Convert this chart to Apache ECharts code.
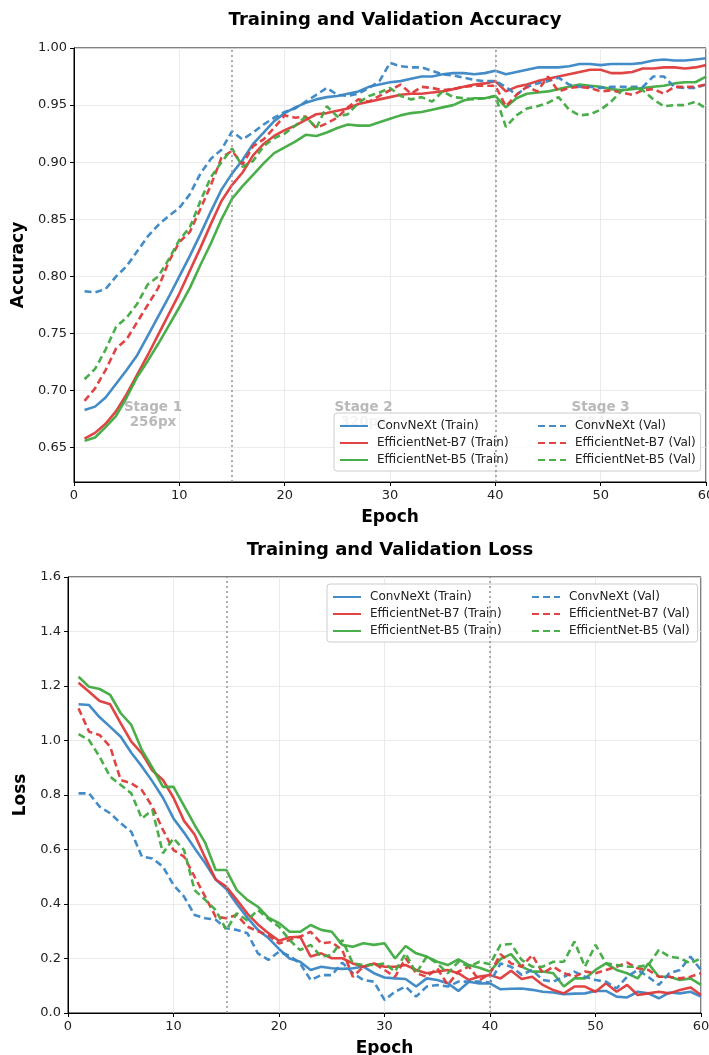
<!DOCTYPE html>
<html>
<head>
<meta charset="utf-8">
<script src="https://cdn.jsdelivr.net/npm/echarts@6/dist/echarts.min.js"></script>
<style>
html,body{margin:0;padding:0;background:#fff;}
#chart{width:709px;height:1055px;}
</style>
</head>
<body>
<div id="chart"></div>
<script>
// ---------------- data ----------------
const epochs = [1,2,3,4,5,6,7,8,9,10,11,12,13,14,15,16,17,18,19,20,21,22,23,24,25,26,27,28,29,30,
  31,32,33,34,35,36,37,38,39,40,41,42,43,44,45,46,47,48,49,50,51,52,53,54,55,56,57,58,59,60];

const seriesNames = ['ConvNeXt (Train)','EfficientNet-B7 (Train)','EfficientNet-B5 (Train)',
                     'ConvNeXt (Val)','EfficientNet-B7 (Val)','EfficientNet-B5 (Val)'];

// Accuracy
const convnextTrainAcc = [0.683,0.686,0.694,0.706,0.718,0.731,0.748,0.765,0.782,0.800,0.818,0.837,0.857,0.876,0.890,
  0.902,0.916,0.926,0.936,0.943,0.948,0.952,0.955,0.957,0.958,0.960,0.962,0.966,0.968,0.970,
  0.971,0.973,0.975,0.975,0.977,0.978,0.978,0.977,0.978,0.980,0.977,0.979,0.981,0.983,0.983,
  0.983,0.984,0.986,0.986,0.985,0.986,0.986,0.986,0.987,0.989,0.990,0.989,0.989,0.990,0.991];
const b7TrainAcc = [0.658,0.663,0.671,0.682,0.697,0.714,0.731,0.749,0.767,0.785,0.805,0.825,0.846,0.866,0.880,
  0.891,0.906,0.916,0.923,0.928,0.932,0.937,0.942,0.943,0.945,0.947,0.951,0.953,0.955,0.957,
  0.959,0.960,0.960,0.961,0.962,0.964,0.966,0.968,0.969,0.971,0.962,0.966,0.968,0.971,0.973,
  0.975,0.977,0.979,0.981,0.981,0.978,0.978,0.979,0.982,0.982,0.983,0.983,0.982,0.983,0.985];
const b5TrainAcc = [0.656,0.659,0.668,0.678,0.694,0.712,0.726,0.741,0.757,0.773,0.790,0.810,0.829,0.850,0.868,
  0.879,0.889,0.899,0.908,0.913,0.918,0.924,0.923,0.926,0.930,0.933,0.932,0.932,0.935,0.938,
  0.941,0.943,0.944,0.946,0.948,0.950,0.954,0.956,0.956,0.958,0.948,0.956,0.960,0.961,0.962,
  0.964,0.966,0.968,0.967,0.966,0.964,0.963,0.964,0.965,0.966,0.967,0.969,0.970,0.970,0.975];
const convnextValAcc = [0.787,0.786,0.789,0.800,0.809,0.822,0.835,0.845,0.853,0.860,0.872,0.890,0.903,0.911,0.927,
  0.920,0.926,0.933,0.939,0.944,0.947,0.953,0.959,0.965,0.959,0.958,0.960,0.965,0.971,0.987,
  0.984,0.983,0.983,0.980,0.977,0.976,0.974,0.972,0.971,0.971,0.966,0.959,0.966,0.969,0.971,
  0.974,0.968,0.966,0.966,0.965,0.966,0.966,0.966,0.966,0.975,0.975,0.966,0.965,0.965,0.968];
const b7ValAcc = [0.691,0.702,0.718,0.737,0.745,0.760,0.775,0.790,0.813,0.830,0.839,0.859,0.880,0.904,0.910,
  0.898,0.914,0.920,0.930,0.941,0.939,0.940,0.930,0.934,0.939,0.948,0.955,0.953,0.958,0.963,
  0.968,0.960,0.966,0.965,0.963,0.964,0.966,0.967,0.967,0.967,0.949,0.959,0.966,0.962,0.975,
  0.962,0.965,0.966,0.965,0.962,0.963,0.961,0.959,0.963,0.964,0.960,0.966,0.966,0.966,0.968];
const b5ValAcc = [0.710,0.719,0.736,0.756,0.764,0.776,0.793,0.800,0.815,0.832,0.843,0.866,0.887,0.900,0.912,
  0.896,0.901,0.914,0.921,0.925,0.932,0.940,0.930,0.949,0.940,0.942,0.952,0.958,0.961,0.965,
  0.958,0.955,0.957,0.953,0.962,0.957,0.956,0.955,0.956,0.958,0.931,0.941,0.947,0.949,0.952,
  0.957,0.946,0.941,0.942,0.946,0.953,0.963,0.965,0.963,0.955,0.949,0.950,0.950,0.953,0.947];

// Loss
const convnextTrainLoss = [1.133,1.130,1.085,1.050,1.014,0.955,0.905,0.850,0.790,0.714,0.662,0.605,0.550,0.490,0.455,
  0.400,0.350,0.305,0.275,0.235,0.200,0.188,0.158,0.170,0.164,0.162,0.164,0.170,0.146,0.130,
  0.127,0.125,0.097,0.127,0.121,0.109,0.081,0.115,0.108,0.109,0.087,0.089,0.090,0.085,0.078,
  0.075,0.069,0.071,0.072,0.081,0.081,0.060,0.057,0.078,0.072,0.054,0.075,0.072,0.078,0.060];
const b7TrainLoss = [1.212,1.179,1.145,1.133,1.063,0.996,0.953,0.890,0.855,0.790,0.705,0.655,0.570,0.490,0.464,
  0.415,0.365,0.325,0.293,0.265,0.278,0.280,0.207,0.219,0.201,0.201,0.182,0.170,0.182,0.170,
  0.170,0.176,0.158,0.146,0.152,0.158,0.146,0.121,0.134,0.139,0.127,0.155,0.125,0.133,0.103,
  0.084,0.072,0.097,0.097,0.078,0.109,0.078,0.103,0.066,0.072,0.078,0.072,0.084,0.094,0.066];
const b5TrainLoss = [1.234,1.197,1.189,1.167,1.100,1.057,0.965,0.900,0.830,0.830,0.760,0.690,0.625,0.525,0.525,
  0.451,0.415,0.390,0.350,0.330,0.298,0.298,0.323,0.305,0.298,0.250,0.243,0.256,0.250,0.256,
  0.200,0.246,0.219,0.207,0.188,0.176,0.197,0.176,0.166,0.152,0.198,0.216,0.170,0.152,0.152,
  0.146,0.097,0.127,0.127,0.158,0.182,0.158,0.146,0.127,0.182,0.133,0.133,0.121,0.127,0.103];
const convnextValLoss = [0.806,0.806,0.757,0.733,0.696,0.665,0.574,0.567,0.537,0.470,0.427,0.360,0.348,0.342,0.311,
  0.305,0.293,0.219,0.195,0.225,0.210,0.182,0.121,0.139,0.139,0.185,0.146,0.121,0.115,0.048,
  0.078,0.097,0.060,0.097,0.103,0.097,0.115,0.115,0.115,0.112,0.182,0.170,0.140,0.158,0.121,
  0.115,0.133,0.152,0.133,0.121,0.115,0.090,0.133,0.158,0.133,0.103,0.146,0.158,0.207,0.158];
const b7ValLoss = [1.118,1.032,1.020,0.977,0.855,0.843,0.818,0.757,0.672,0.598,0.574,0.500,0.427,0.353,0.348,
  0.360,0.317,0.300,0.285,0.255,0.268,0.280,0.298,0.256,0.260,0.231,0.133,0.170,0.182,0.158,
  0.133,0.201,0.146,0.133,0.164,0.103,0.152,0.170,0.120,0.145,0.216,0.182,0.170,0.213,0.146,
  0.170,0.146,0.133,0.152,0.146,0.158,0.170,0.185,0.164,0.158,0.133,0.133,0.127,0.133,0.146];
const b5ValLoss = [1.023,1.001,0.940,0.867,0.837,0.806,0.714,0.745,0.586,0.641,0.598,0.451,0.415,0.378,0.305,
  0.366,0.340,0.378,0.345,0.317,0.268,0.231,0.250,0.207,0.213,0.268,0.182,0.176,0.176,0.182,
  0.152,0.219,0.146,0.207,0.182,0.146,0.188,0.170,0.188,0.179,0.250,0.253,0.195,0.170,0.170,
  0.188,0.188,0.262,0.170,0.250,0.182,0.176,0.170,0.170,0.176,0.231,0.207,0.201,0.182,0.201];

const stageBoundaries = [15, 40];
const stageCenters = [7.5, 27.5, 50];
const stageLabels = ['Stage 1\n256px', 'Stage 2\n320px', 'Stage 3\n384px'];

const epochTicks = [0, 10, 20, 30, 40, 50, 60];
const accTicks = [0.65, 0.70, 0.75, 0.80, 0.85, 0.90, 0.95, 1.00];
const lossTicks = [0.0, 0.2, 0.4, 0.6, 0.8, 1.0, 1.2, 1.4, 1.6];

// ---------------- styling ----------------
const FONT = 'DejaVu Sans';
const colors = ['#3a86c4', '#de3a3a', '#40aa40'];
const zip = (ys) => epochs.map((e, i) => [e, ys[i]]);

function lineSeries(name, ys, colorIdx, dashed, gi) {
  return {
    type: 'line', name: name, data: zip(ys),
    xAxisIndex: gi, yAxisIndex: gi,
    symbol: 'none', showSymbol: false, smooth: false,
    lineStyle: { color: colors[colorIdx], width: 2.6, type: dashed ? [7, 4] : 'solid', opacity: 0.95 },
    itemStyle: { color: colors[colorIdx] },
    emphasis: { disabled: true },
    z: 3
  };
}

function stageLineSeries(gi) {
  return {
    type: 'line', name: '__stage' + gi, data: [], xAxisIndex: gi, yAxisIndex: gi,
    symbol: 'none', silent: true,
    markLine: {
      silent: true, symbol: ['none', 'none'], label: { show: false },
      lineStyle: { color: '#9a9a9a', width: 1.6, type: [2, 3] },
      data: stageBoundaries.map(v => ({ xAxis: v }))
    },
    z: 2
  };
}

function xAxisCfg(gi) {
  return {
    type: 'value', gridIndex: gi, min: 0, max: 60, interval: 10,
    name: 'Epoch', nameLocation: 'middle', nameGap: 27,
    nameTextStyle: { fontFamily: FONT, fontSize: 17, fontWeight: 'bold', color: '#000' },
    axisLine: { show: true, onZero: false, lineStyle: { color: '#000', width: 1 } },
    axisTick: { show: true, length: 4, lineStyle: { color: '#000' }, customValues: epochTicks },
    axisLabel: { fontFamily: FONT, fontSize: 13, color: '#222', margin: 7, customValues: epochTicks },
    splitLine: { show: true, lineStyle: { color: '#e6e6e6', width: 0.8 } }
  };
}

function yAxisCfg(gi, name, ticks, min, max, digits, gap) {
  return {
    type: 'value', gridIndex: gi, min: min, max: max,
    name: name, nameLocation: 'middle', nameGap: gap, nameRotate: 90,
    nameTextStyle: { fontFamily: FONT, fontSize: 17, fontWeight: 'bold', color: '#000' },
    axisLine: { show: true, onZero: false, lineStyle: { color: '#000', width: 1 } },
    axisTick: { show: true, length: 4, lineStyle: { color: '#000' }, customValues: ticks },
    axisLabel: { fontFamily: FONT, fontSize: 13, color: '#222', margin: 7, customValues: ticks,
                 formatter: v => Number(v).toFixed(digits) },
    splitLine: { show: true, lineStyle: { color: '#e6e6e6', width: 0.8 } }
  };
}

function legendPair(top, leftA, leftB, padRight) {
  const common = {
    orient: 'vertical', top: top, itemWidth: 28, itemHeight: 14, itemGap: 5,
    textStyle: { fontFamily: FONT, fontSize: 12, color: '#222', padding: [0, 0, 0, 4] },
    itemStyle: { opacity: 0, borderWidth: 0 },
    selectedMode: false
  };
  return [
    Object.assign({}, common, {
      left: leftA, data: seriesNames.slice(0, 3),
      backgroundColor: 'rgba(255,255,255,0.82)', borderColor: '#cccccc', borderWidth: 1, borderRadius: 3,
      padding: [7, padRight, 5, 5]
    }),
    Object.assign({}, common, {
      left: leftB, data: seriesNames.slice(3, 6),
      padding: [7, 5, 5, 5]
    })
  ];
}

const accData = [convnextTrainAcc, b7TrainAcc, b5TrainAcc, convnextValAcc, b7ValAcc, b5ValAcc];
const lossData = [convnextTrainLoss, b7TrainLoss, b5TrainLoss, convnextValLoss, b7ValLoss, b5ValLoss];

const series = [];
series.push(stageLineSeries(0));
series.push(stageLineSeries(1));
for (let i = 0; i < 6; i++) {
  series.push(lineSeries(seriesNames[i], accData[i], i % 3, i >= 3, 0));
}
for (let i = 0; i < 6; i++) {
  series.push(lineSeries(seriesNames[i], lossData[i], i % 3, i >= 3, 1));
}
// stage annotations on the accuracy chart
series.push({
  type: 'scatter', name: '__stageText', xAxisIndex: 0, yAxisIndex: 0, silent: true,
  symbol: 'circle', symbolSize: 1, itemStyle: { color: 'rgba(0,0,0,0)' },
  data: stageCenters.map((c, i) => ({ value: [c, 0.679], name: stageLabels[i] })),
  label: {
    show: true, position: 'inside', formatter: p => p.name,
    fontFamily: FONT, fontSize: 13.5, fontWeight: 'bold', color: '#a8a8a8',
    lineHeight: 15, align: 'center', verticalAlign: 'middle'
  },
  labelLayout: { hideOverlap: false },
  z: 1
});

const option = {
  animation: false,
  backgroundColor: '#ffffff',
  title: [
    { text: 'Training and Validation Accuracy', left: 390, top: 6, textAlign: 'center',
      textStyle: { fontFamily: FONT, fontSize: 18, fontWeight: 'bold', color: '#000' } },
    { text: 'Training and Validation Loss', left: 385, top: 536, textAlign: 'center',
      textStyle: { fontFamily: FONT, fontSize: 18, fontWeight: 'bold', color: '#000' } }
  ],
  grid: [
    { left: 74, top: 48, right: 3, height: 434, outerBoundsMode: 'none', containLabel: false,
      show: true, borderColor: '#000', borderWidth: 1, backgroundColor: 'transparent' },
    { left: 68, top: 577, right: 8, height: 436, outerBoundsMode: 'none', containLabel: false,
      show: true, borderColor: '#000', borderWidth: 1, backgroundColor: 'transparent' }
  ],
  xAxis: [xAxisCfg(0), xAxisCfg(1)],
  yAxis: [
    yAxisCfg(0, 'Accuracy', accTicks, 0.62, 1.0, 2, 47),
    yAxisCfg(1, 'Loss', lossTicks, 0, 1.6, 1, 35)
  ],
  legend: legendPair(413, 334, 532, 192).concat(legendPair(584, 327, 526, 196)),
  series: series
};

const chart = echarts.init(document.getElementById('chart'), null, { renderer: 'canvas' });
chart.setOption(option);
</script>
</body>
</html>
